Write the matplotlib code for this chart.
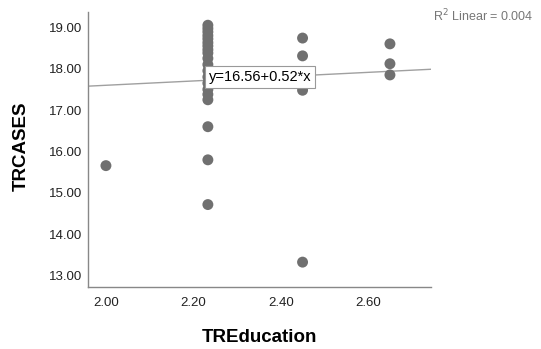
import matplotlib.pyplot as plt
import numpy as np

plt.rcParams["font.family"] = ["Liberation Sans", "DejaVu Sans"]

# data
edu_2_00 = [2.00]
cases_2_00 = [15.66]

cases_2_23 = [19.05, 18.97, 18.89, 18.80, 18.72, 18.63, 18.55, 18.46, 18.38,
              18.25, 18.10, 17.95, 17.80, 17.65, 17.50, 17.38, 17.25,
              16.60, 15.80, 14.72]
cases_2_45 = [18.74, 18.31, 17.85, 17.48, 13.33]
cases_2_65 = [18.60, 18.12, 17.85]

edu = np.array(edu_2_00 + [2.2333] * len(cases_2_23)
               + [2.45] * len(cases_2_45) + [2.65] * len(cases_2_65))
cases = np.array(cases_2_00 + cases_2_23 + cases_2_45 + cases_2_65)

intercept, slope = 16.56, 0.52
xticks = [2.00, 2.20, 2.40, 2.60]
yticks = [13, 14, 15, 16, 17, 18, 19]

fig = plt.figure(figsize=(5.41, 3.49), dpi=100)
ax = fig.add_axes([0.1627, 0.1777, 0.634, 0.788])

ax.set_xlim(1.959, 2.744)
ax.set_ylim(12.73, 19.37)

xs = np.array(ax.get_xlim())
ax.plot(xs, intercept + slope * xs, color="#a0a0a0", lw=1.0, zorder=1)

ax.scatter(edu, cases, s=62, color="#707070", edgecolors="none", zorder=2)

ax.text(2.235, 17.79, "y=16.56+0.52*x", fontsize=10.5, va="center", ha="left",
        zorder=3,
        bbox=dict(boxstyle="square,pad=0.28", fc="white", ec="#999999", lw=0.8))

ax.set_xticks(xticks)
ax.set_xticklabels([f"{t:.2f}" for t in xticks])
ax.set_yticks(yticks)
ax.set_yticklabels([f"{t:.2f}" for t in yticks])
ax.tick_params(length=0, labelsize=9.5, colors="#222222")
ax.tick_params(axis="x", pad=7)
ax.tick_params(axis="y", pad=4)

for side in ["top", "right"]:
    ax.spines[side].set_visible(False)
for side in ["left", "bottom"]:
    ax.spines[side].set_color("#888888")
    ax.spines[side].set_linewidth(1.0)

ax.set_xlabel("TREducation", fontsize=13.5, fontweight="bold", va="center")
ax.set_ylabel("TRCASES", fontsize=13.5, fontweight="bold", va="center")
ax.xaxis.set_label_coords(0.5, -0.185)
ax.yaxis.set_label_coords(-0.195, 0.513)

fig.text(0.80, 0.955, r"R$^2$ Linear = 0.004", fontsize=9, color="#777777",
         ha="left", va="center")

fig.savefig("out.png", dpi=100)
